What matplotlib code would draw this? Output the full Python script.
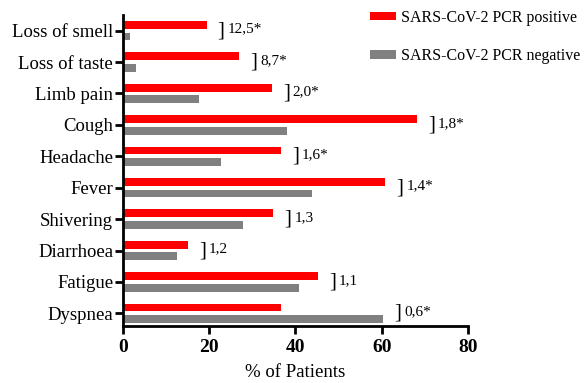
import numpy as np
import matplotlib
matplotlib.use('Agg')
import matplotlib.pyplot as plt

plt.rcParams['font.family'] = ['Liberation Serif', 'DejaVu Serif']

symptoms = ['Loss of smell', 'Loss of taste', 'Limb pain', 'Cough', 'Headache',
            'Fever', 'Shivering', 'Diarrhoea', 'Fatigue', 'Dyspnea']
positive = [19.4, 27.0, 34.5, 68.1, 36.6, 60.8, 34.9, 15.0, 45.2, 36.6]
negative = [1.6, 3.0, 17.6, 38.1, 22.7, 43.8, 27.9, 12.5, 40.8, 60.3]
odds = ['12,5*', '8,7*', '2,0*', '1,8*', '1,6*', '1,4*', '1,3', '1,2', '1,1', '0,6*']

y = np.arange(len(symptoms))
h = 0.25

fig = plt.figure(figsize=(5.85, 3.83), dpi=100)
ax = fig.add_axes([0.210, 0.149, 0.590, 0.812])

ax.barh(y - 0.185, positive, height=h, color='#ff0000', label='SARS-CoV-2 PCR positive')
ax.barh(y + 0.185, negative, height=h, color='#808080', label='SARS-CoV-2 PCR negative')

for i in range(len(symptoms)):
    xb = max(positive[i], negative[i]) + 2.6
    ax.text(xb, y[i], ']', fontsize=15, va='center', ha='left')
    ax.text(xb + 2.3, y[i] - 0.05, odds[i], fontsize=11, va='center', ha='left')

ax.set_xlim(0, 80)
ax.set_ylim(9.4, -0.5)
ax.set_xticks([0, 20, 40, 60, 80])
ax.set_yticks(y)
ax.set_yticklabels(symptoms, fontsize=13.5)
for t in ax.get_xticklabels():
    t.set_fontweight('bold')
    t.set_fontsize(14)
ax.set_xlabel('% of Patients', fontsize=13.5, labelpad=6)

for s in ['top', 'right']:
    ax.spines[s].set_visible(False)
for s in ['left', 'bottom']:
    ax.spines[s].set_linewidth(2)
ax.tick_params(width=2, length=6)
ax.tick_params(axis='y', pad=1)

ax.legend(loc='upper left', bbox_to_anchor=(0.633, 0.975), bbox_transform=fig.transFigure,
          frameon=False, fontsize=11.5, handlelength=1.6, handleheight=0.45,
          labelspacing=1.4, borderaxespad=0, borderpad=0, handletextpad=0.35)

fig.savefig('out.png', dpi=100)
